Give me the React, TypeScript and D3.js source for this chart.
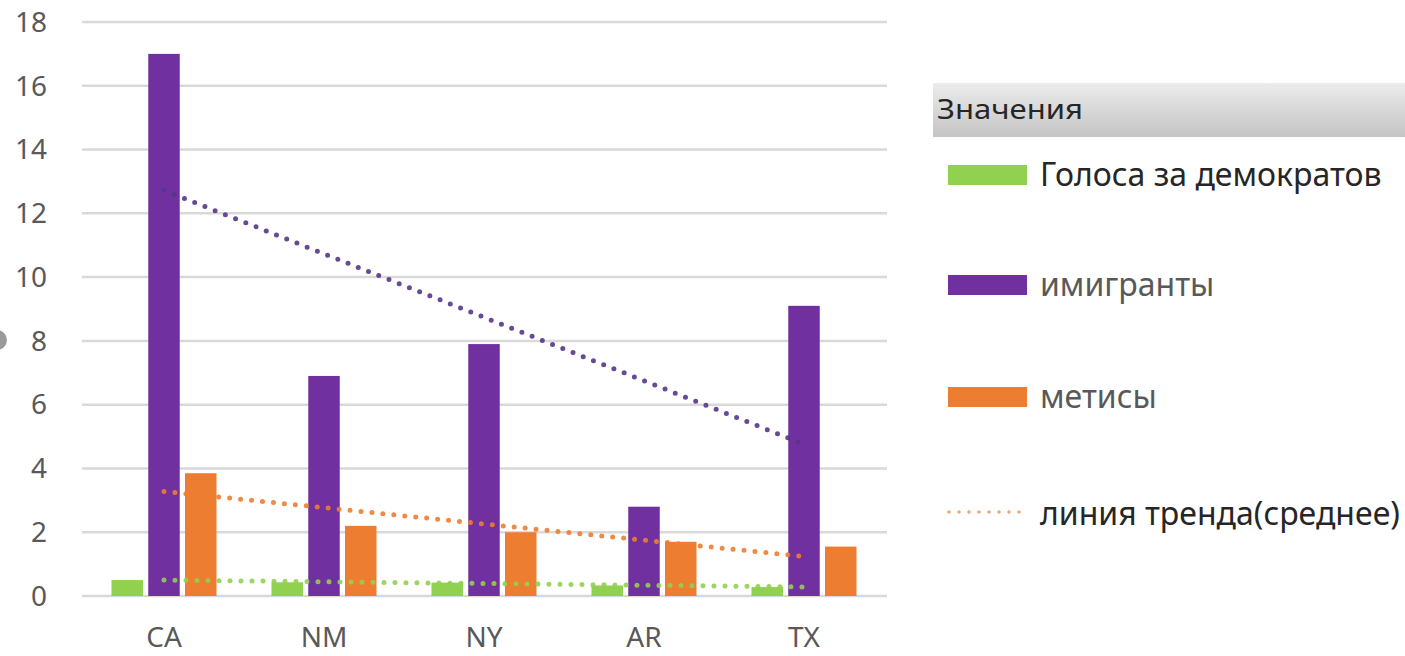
import React from "react";
import * as d3 from "d3";

const categories = ["CA", "NM", "NY", "AR", "TX"];
const seriesNames = ["Голоса за демократов", "имигранты", "метисы"];
const votes = [0.5, 0.43, 0.42, 0.33, 0.28];
const immigrants = [17, 6.9, 7.9, 2.8, 9.1];
const mestizos = [3.85, 2.2, 2.0, 1.7, 1.55];
const yTicks = [0, 2, 4, 6, 8, 10, 12, 14, 16, 18];
const legendTitle = "Значения";
const trendLabel = "линия тренда(среднее)";

const colors = ["#92D050", "#7030A0", "#ED7D31"];
const trendColors = ["#92D050", "#55368a", "#ED7D31"];
const legendTextColors = ["#262626", "#595959", "#595959", "#262626"];

function linReg(vals: number[]) {
  const xs = vals.map((_, i) => i);
  const mx = d3.mean(xs)!;
  const my = d3.mean(vals)!;
  let num = 0, den = 0;
  xs.forEach((x, i) => {
    num += (x - mx) * (vals[i] - my);
    den += (x - mx) * (x - mx);
  });
  const slope = num / den;
  const b = my - slope * mx;
  return xs.map((x) => b + slope * x);
}

export default function App() {
  const W = 1405, H = 656;
  const plotLeft = 84, plotRight = 884;
  const x0 = d3.scaleBand<string>().domain(categories).range([plotLeft, plotRight]).padding(0);
  const x1 = d3.scaleBand<number>().domain([0, 1, 2]).range([-52.5, 52.5]).paddingInner(0.143).paddingOuter(0);
  const y = d3.scaleLinear().domain([0, 18]).range([596, 22]);
  const series = [votes, immigrants, mestizos];
  const font = "'Noto Sans', 'Open Sans', sans-serif";
  const line = d3.line<number>().x((_, i) => x0(categories[i])! + x0.bandwidth() / 2).y((v) => y(v));

  const legendY = [175, 285, 397, 514];

  return (
    <div style={{ position: "absolute", left: 0, top: 0 }}>
      <svg width={W} height={H} style={{ display: "block", background: "#fff" }}>
        <defs>
          <linearGradient id="hdr" x1="0" y1="0" x2="0" y2="1">
            <stop offset="0" stopColor="#ececec" />
            <stop offset="1" stopColor="#c4c4c4" />
          </linearGradient>
        </defs>
        {yTicks.map((t) => (
          <g key={t}>
            <line x1={82} x2={887} y1={y(t)} y2={y(t)} stroke="#d9d9d9" strokeWidth={2.5} />
            <text x={47} y={y(t)} dy="0.35em" textAnchor="end" fontFamily={font} fontSize={28} fill="#595959">
              {t}
            </text>
          </g>
        ))}
        <circle cx={-3} cy={340} r={10} fill="#9a9a9a" />
        {categories.map((c, ci) => (
          <g key={c}>
            {series.map((s, si) => (
              <rect
                key={si}
                x={x0(c)! + x0.bandwidth() / 2 + x1(si)!}
                width={x1.bandwidth()}
                y={y(s[ci])}
                height={y(0) - y(s[ci])}
                fill={colors[si]}
              />
            ))}
            <text x={x0(c)! + x0.bandwidth() / 2} y={637} dy="0.35em" textAnchor="middle" fontFamily={font} fontSize={28} fill="#595959">
              {c}
            </text>
          </g>
        ))}
        {series.map((s, si) => (
          <path
            key={si}
            d={line(linReg(s))!}
            fill="none"
            stroke={trendColors[si]}
            strokeWidth={5}
            strokeLinecap="round"
            strokeDasharray="0 11"
            opacity={0.9}
          />
        ))}
        {/* Legend */}
        <rect x={933} y={83} width={472} height={54} fill="url(#hdr)" />
        <text x={937} y={110} dy="0.35em" fontFamily={font} fontSize={27} fill="#262626" textLength={146} lengthAdjust="spacingAndGlyphs">
          {legendTitle}
        </text>
        {seriesNames.map((n, i) => (
          <g key={n}>
            <rect x={948} y={legendY[i] - 10} width={79} height={20} fill={colors[i]} />
            <text x={1040} y={legendY[i]} dy="0.35em" fontFamily={font} fontSize={32} fill={legendTextColors[i]}>
              {n}
            </text>
          </g>
        ))}
        <line x1={949} x2={1022} y1={legendY[3] - 2} y2={legendY[3] - 2} stroke="#E9A77C" strokeWidth={3.5} strokeLinecap="round" strokeDasharray="0 10" />
        <text x={1040} y={legendY[3]} dy="0.35em" fontFamily={font} fontSize={32} fill={legendTextColors[3]}>
          {trendLabel}
        </text>
      </svg>
    </div>
  );
}
